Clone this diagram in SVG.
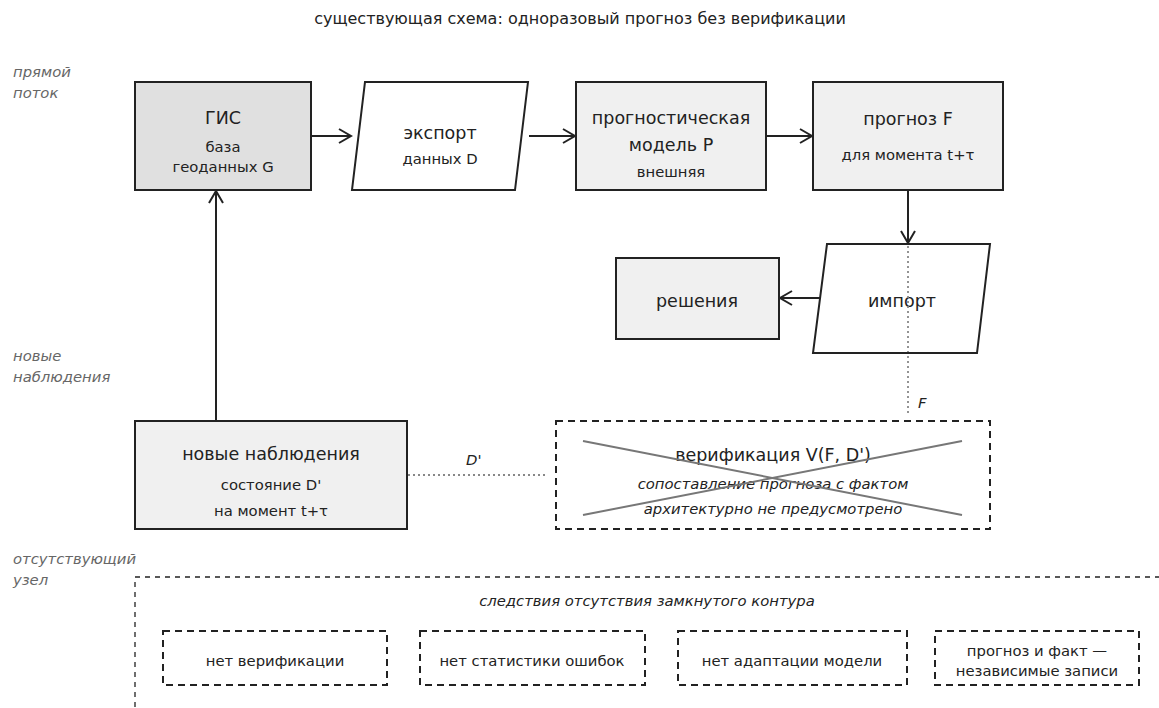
<svg xmlns="http://www.w3.org/2000/svg" width="1159" height="708" viewBox="0 0 1159 708">
  <style>
    text { font-family: "DejaVu Sans", "Liberation Sans", sans-serif; fill: #222; }
    .title { font-size: 16px; }
    .lane { font-size: 14.8px; font-style: italic; fill: #666; }
    .main { font-size: 17.5px; text-anchor: middle; }
    .sub { font-size: 14.8px; text-anchor: middle; }
    .ital { font-size: 14.8px; font-style: italic; text-anchor: middle; }
    .lbl { font-size: 14.8px; font-style: italic; }
    .box { stroke: #222; stroke-width: 2; }
    .grey { fill: #e0e0e0; }
    .light { fill: #f0f0f0; }
    .io { fill: #ffffff; stroke: #222; stroke-width: 2; }
    .dash { fill: none; stroke: #222; stroke-width: 2; stroke-dasharray: 7 5; }
    .outer { fill: none; stroke: #222; stroke-width: 1.3; stroke-dasharray: 5 5; }
    .flow { fill: none; stroke: #222; stroke-width: 2; }
    .dot { fill: none; stroke: #888; stroke-width: 1.8; stroke-dasharray: 2 3; }
    .cross { stroke: #777; stroke-width: 2; }
  </style>
  <defs>
    <marker id="arr" markerUnits="userSpaceOnUse" markerWidth="16" markerHeight="18" refX="13" refY="8" orient="auto">
      <path d="M1,1 L13,8 L1,15" fill="none" stroke="#222" stroke-width="2"/>
    </marker>
  </defs>

  <text class="title" x="580" y="24" text-anchor="middle">существующая схема: одноразовый прогноз без верификации</text>

  <!-- lane captions -->
  <g id="lanes">
    <text class="lane" x="13" y="77">прямой</text>
    <text class="lane" x="13" y="98">поток</text>
    <text class="lane" x="13" y="361">новые</text>
    <text class="lane" x="13" y="382">наблюдения</text>
    <text class="lane" x="13" y="564">отсутствующий</text>
    <text class="lane" x="13" y="585">узел</text>
  </g>

  <!-- connectors -->
  <g id="connectors">
    <line class="flow" x1="311" y1="136" x2="351" y2="136" marker-end="url(#arr)"/>
    <line class="flow" x1="529" y1="136" x2="575" y2="136" marker-end="url(#arr)"/>
    <line class="flow" x1="766" y1="136" x2="812" y2="136" marker-end="url(#arr)"/>
    <line class="flow" x1="908" y1="190" x2="908" y2="243" marker-end="url(#arr)"/>
    <line class="flow" x1="820" y1="298" x2="780" y2="298" marker-end="url(#arr)"/>
    <line class="flow" x1="216" y1="421" x2="216" y2="191" marker-end="url(#arr)"/>
    <line class="dot" x1="908" y1="246" x2="908" y2="414"/>
    <text class="lbl" x="918" y="408">F</text>
    <line class="dot" x1="408" y1="475" x2="548" y2="475"/>
    <text class="lbl" x="466" y="465">D'</text>
  </g>

  <g id="gis">
    <rect class="box grey" x="135" y="82" width="176" height="108"/>
    <text class="main" x="223" y="124">ГИС</text>
    <text class="sub" x="223" y="152">база</text>
    <text class="sub" x="223" y="172">геоданных G</text>
  </g>

  <g id="export">
    <polygon class="io" points="365,82 528,82 515,190 352,190"/>
    <text class="main" x="440" y="139">экспорт</text>
    <text class="sub" x="440" y="164">данных D</text>
  </g>

  <g id="model">
    <rect class="box light" x="576" y="82" width="190" height="108"/>
    <text class="main" x="671" y="124">прогностическая</text>
    <text class="main" x="671" y="151">модель P</text>
    <text class="sub" x="671" y="177">внешняя</text>
  </g>

  <g id="forecast">
    <rect class="box light" x="813" y="82" width="190" height="108"/>
    <text class="main" x="908" y="125">прогноз F</text>
    <text class="sub" x="908" y="160">для момента t+τ</text>
  </g>

  <g id="import">
    <polygon class="io" points="827,244 990,244 977,353 813,353"/>
    <text class="main" x="902" y="307">импорт</text>
  </g>
  <!-- the dotted F trace runs over the import shape -->
  <line class="dot" x1="908" y1="246" x2="908" y2="352"/>

  <g id="decisions">
    <rect class="box light" x="616" y="258" width="163" height="81"/>
    <text class="main" x="697" y="307">решения</text>
  </g>

  <g id="observations">
    <rect class="box light" x="135" y="421" width="272" height="108"/>
    <text class="main" x="271" y="460">новые наблюдения</text>
    <text class="sub" x="271" y="490">состояние D'</text>
    <text class="sub" x="271" y="516">на момент t+τ</text>
  </g>

  <g id="verification">
    <rect class="dash" x="556" y="421" width="434" height="108"/>
    <text class="main" x="773" y="461">верификация V(F, D')</text>
    <text class="ital" x="773" y="489">сопоставление прогноза с фактом</text>
    <text class="ital" x="773" y="514">архитектурно не предусмотрено</text>
    <line class="cross" x1="583" y1="441" x2="962" y2="515"/>
    <line class="cross" x1="583" y1="515" x2="962" y2="441"/>
  </g>

  <g id="consequences">
    <rect class="outer" x="135" y="577" width="1060" height="160"/>
    <text class="ital" x="647" y="606">следствия отсутствия замкнутого контура</text>
  </g>

  <g id="c1">
    <rect class="dash" x="163" y="631" width="224" height="54"/>
    <text class="sub" x="275" y="666">нет верификации</text>
  </g>
  <g id="c2">
    <rect class="dash" x="420" y="631" width="225" height="54"/>
    <text class="sub" x="532" y="666">нет статистики ошибок</text>
  </g>
  <g id="c3">
    <rect class="dash" x="678" y="631" width="229" height="54"/>
    <text class="sub" x="792" y="666">нет адаптации модели</text>
  </g>
  <g id="c4">
    <rect class="dash" x="935" y="631" width="204" height="54"/>
    <text class="sub" x="1037" y="656">прогноз и факт —</text>
    <text class="sub" x="1037" y="676">независимые записи</text>
  </g>
</svg>
